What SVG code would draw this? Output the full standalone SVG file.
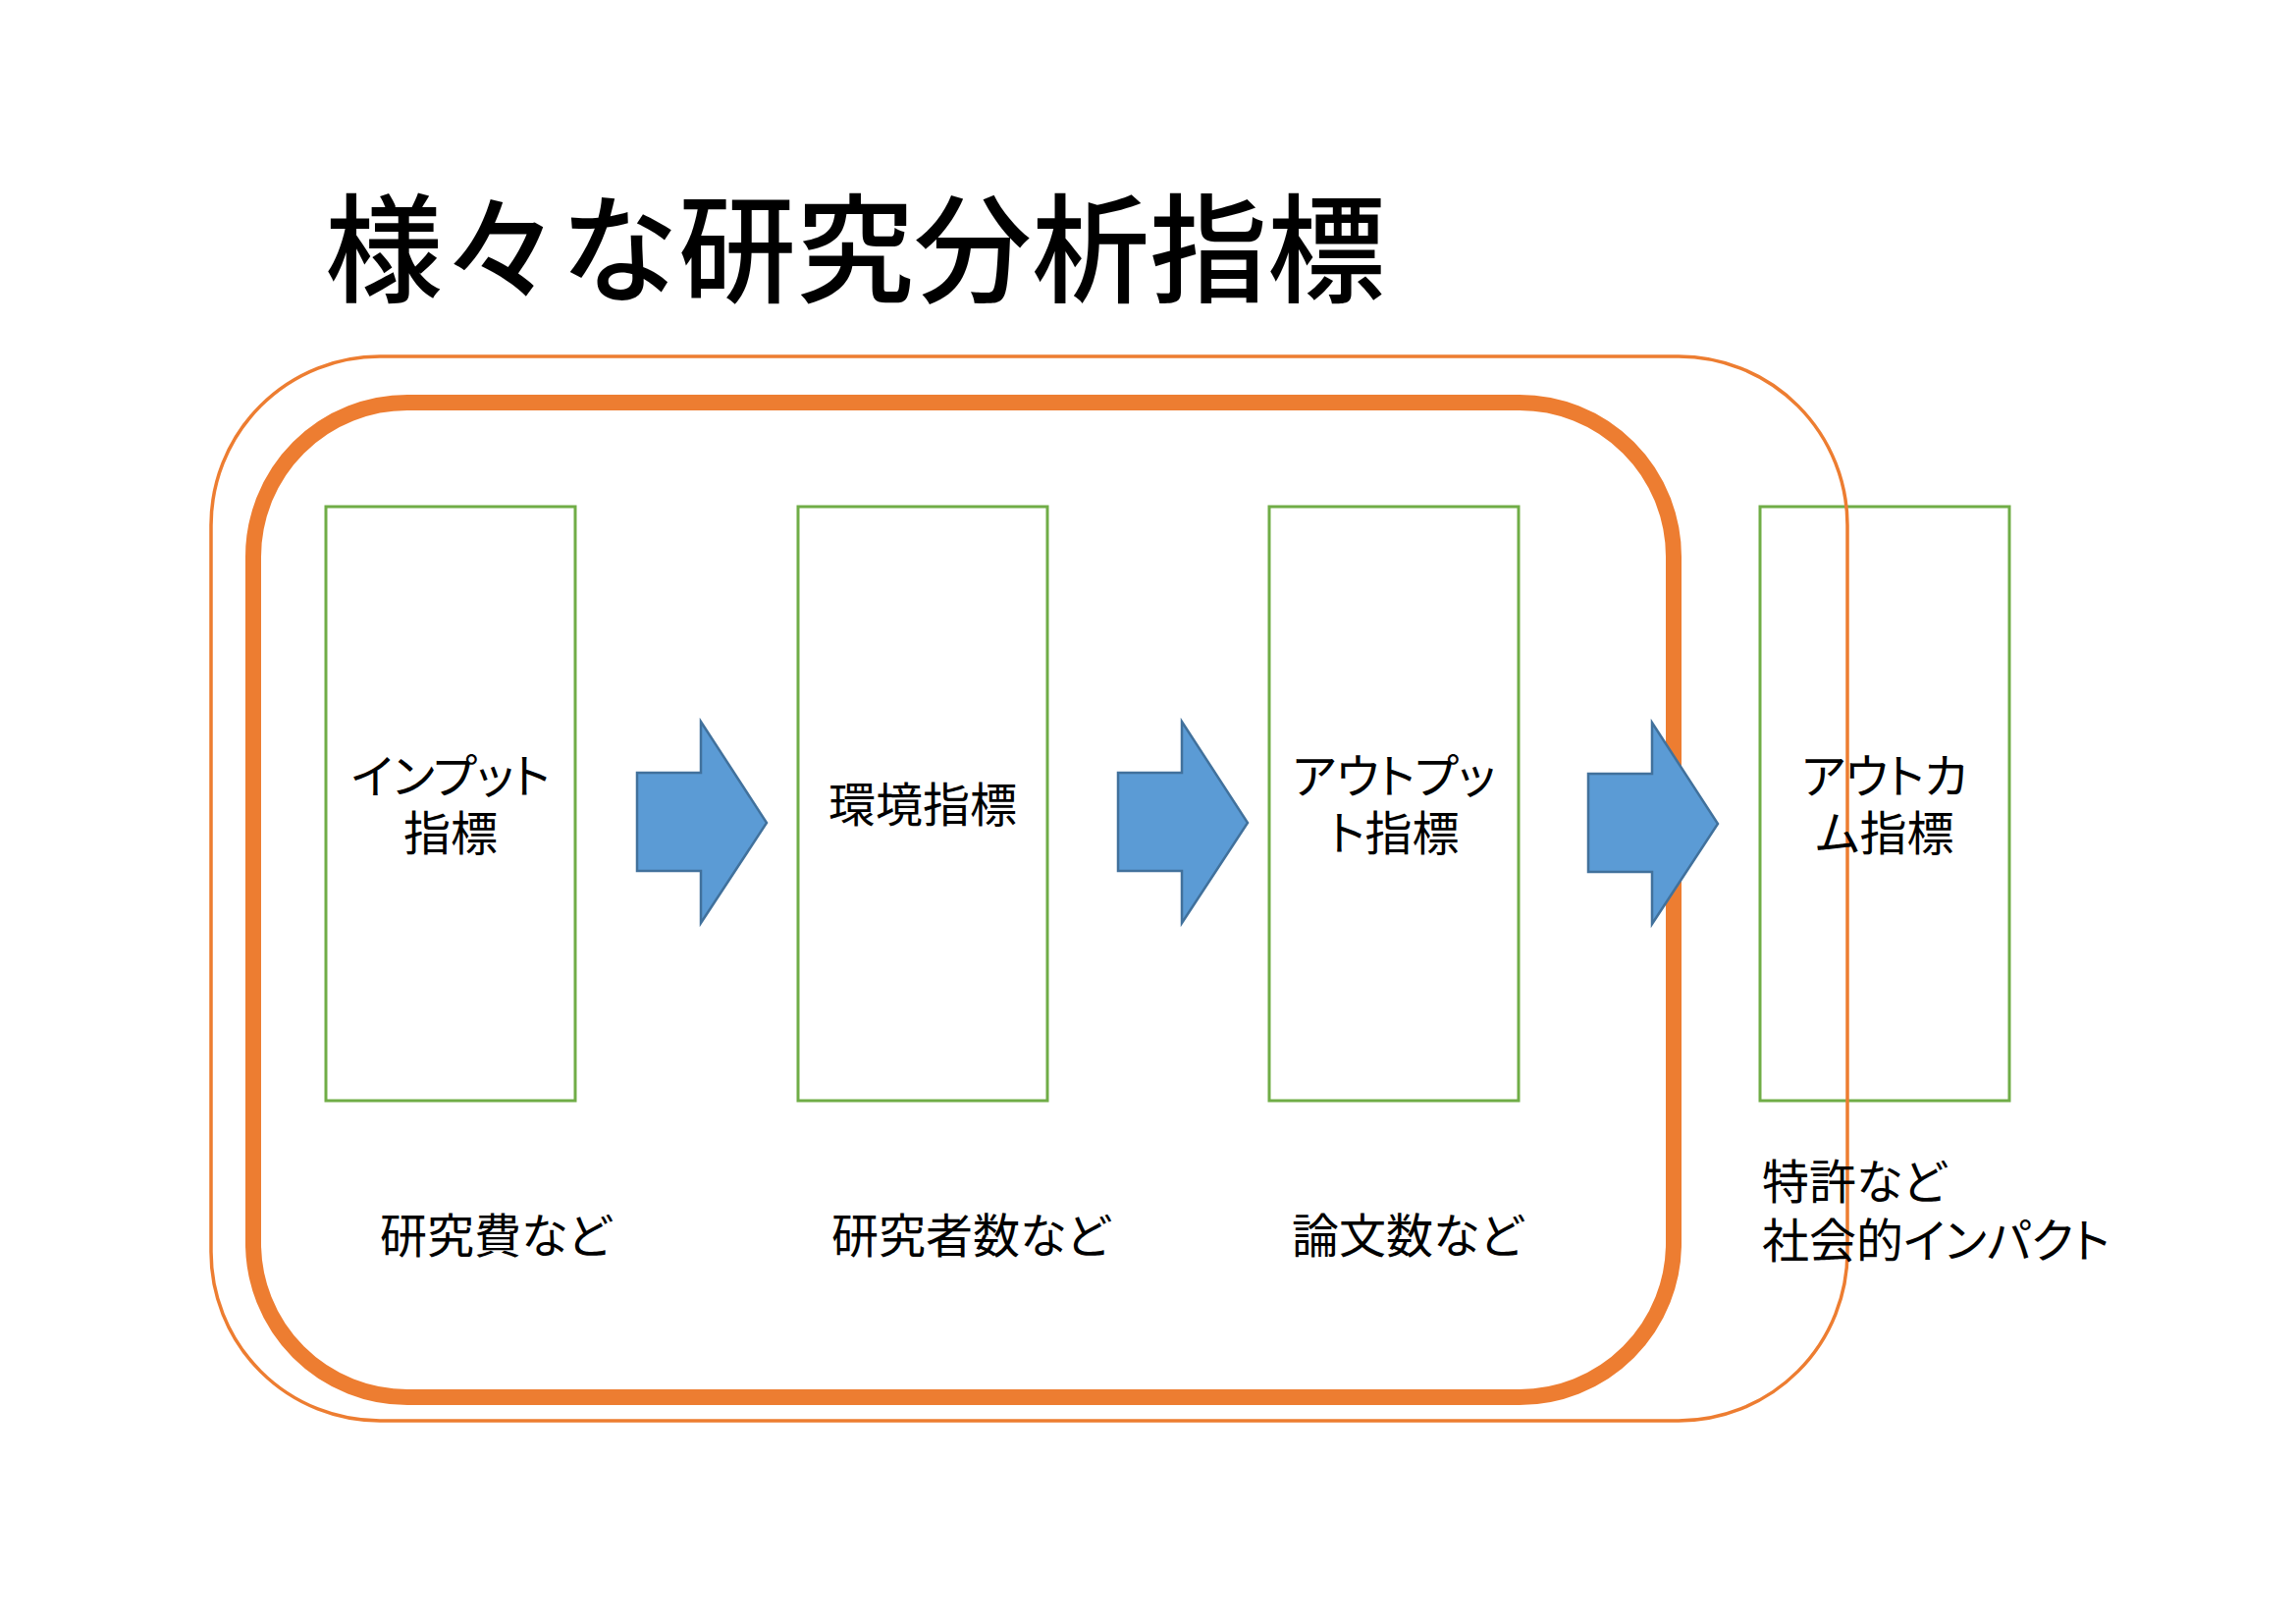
<svg xmlns="http://www.w3.org/2000/svg" width="2339" height="1654" viewBox="0 0 2339 1654">
<defs>
<style>
.box{fill:none;stroke:#70AD47;stroke-width:3}
.ring{fill:none;stroke:#ED7D31}
.arrow{fill:#5B9BD5;stroke:#41719C;stroke-width:2.5;stroke-linejoin:miter}
text{font-family:"Noto Sans CJK JP","Noto Sans CJK SC",sans-serif;fill:#000}
.lbl{font-size:48px;font-feature-settings:"palt"}
.mid{text-anchor:middle}
.title{font-size:120px;font-weight:500}
</style>
<polygon id="arr" class="arrow" points="0,0 65,0 65,-52 132,51 65,153 65,100 0,100"/>
</defs>
<rect width="2339" height="1654" fill="#fff"/>
<text class="title" x="331" y="299">様々な研究分析指標</text>
<g id="node-input"><rect class="box" x="332" y="516" width="254" height="605"/></g>
<g id="node-env"><rect class="box" x="813" y="516" width="254" height="605"/></g>
<g id="node-output"><rect class="box" x="1293" y="516" width="254" height="605"/></g>
<g id="node-outcome"><rect class="box" x="1793" y="516" width="254" height="605"/></g>
<g id="group-outer"><rect class="ring" x="215" y="363" width="1667" height="1084" rx="172" ry="172" stroke-width="3.5"/></g>
<g id="group-inner"><rect class="ring" x="258" y="410" width="1447" height="1013" rx="157" ry="157" stroke-width="16"/></g>
<g id="connectors">
<use href="#arr" x="649" y="787"/>
<use href="#arr" x="1139" y="787"/>
<use href="#arr" x="1618" y="788"/>
</g>
<g id="labels">
<text class="lbl mid" x="459" y="808">インプット<tspan x="459" dy="58">指標</tspan></text>
<text class="lbl mid" x="940" y="837">環境指標</text>
<text class="lbl mid" x="1420" y="808">アウトプッ<tspan x="1420" dy="58">ト指標</tspan></text>
<text class="lbl mid" x="1920" y="808">アウトカ<tspan x="1920" dy="58">ム指標</tspan></text>
<text class="lbl" x="387" y="1276">研究費など</text>
<text class="lbl" x="847" y="1276">研究者数など</text>
<text class="lbl" x="1316" y="1276">論文数など</text>
<text class="lbl" x="1795" y="1221">特許など<tspan x="1795" dy="60">社会的インパクト</tspan></text>
</g>
</svg>
